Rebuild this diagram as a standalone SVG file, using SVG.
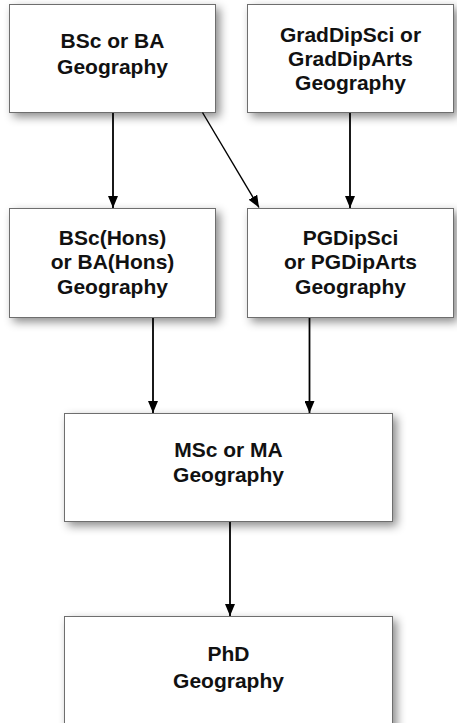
<svg xmlns="http://www.w3.org/2000/svg" width="457" height="723" viewBox="0 0 457 723">
  <style>
    .box { fill: #ffffff; stroke: #6e6e6e; stroke-width: 1; filter: url(#shadow); }
    .label { font-family: "Liberation Sans", Arial, sans-serif; font-weight: bold; font-size: 21px; fill: #111111; text-anchor: middle; }
    .edge { stroke: #000000; stroke-width: 1.8; fill: none; marker-end: url(#arrow); }
    .edge.thin { stroke-width: 1.4; }
  </style>
  <defs>
    <filter id="shadow" x="-20%" y="-20%" width="150%" height="150%">
      <feDropShadow dx="4" dy="4" stdDeviation="5" flood-color="#000000" flood-opacity="0.45"/>
    </filter>
    <marker id="arrow" viewBox="0 0 12 10" refX="12" refY="5" markerWidth="12" markerHeight="10" markerUnits="userSpaceOnUse" orient="auto">
      <path d="M0,0 L12,5 L0,10 z" fill="#000000"/>
    </marker>
  </defs>

  <rect width="457" height="723" fill="#ffffff"/>

  <g id="bsc-ba">
    <rect class="box" x="9.5" y="4.5" width="206" height="108"/>
    <text class="label" x="112.5" y="48">BSc or BA</text>
    <text class="label" x="112.5" y="74">Geography</text>
  </g>

  <g id="graddip">
    <rect class="box" x="247.5" y="4.5" width="206" height="108"/>
    <text class="label" x="350.5" y="41.5">GradDipSci or</text>
    <text class="label" x="350.5" y="65.5">GradDipArts</text>
    <text class="label" x="350.5" y="89.5">Geography</text>
  </g>

  <g id="bsc-hons">
    <rect class="box" x="9.5" y="208.5" width="206" height="109"/>
    <text class="label" x="112.5" y="244.5">BSc(Hons)</text>
    <text class="label" x="112.5" y="269">or BA(Hons)</text>
    <text class="label" x="112.5" y="293.5">Geography</text>
  </g>

  <g id="pgdip">
    <rect class="box" x="247.5" y="208.5" width="206" height="109"/>
    <text class="label" x="350.5" y="244.5">PGDipSci</text>
    <text class="label" x="350.5" y="269">or PGDipArts</text>
    <text class="label" x="350.5" y="293.5">Geography</text>
  </g>

  <g id="msc-ma">
    <rect class="box" x="64.5" y="413.5" width="328" height="108"/>
    <text class="label" x="228.5" y="457">MSc or MA</text>
    <text class="label" x="228.5" y="482">Geography</text>
  </g>

  <g id="phd">
    <rect class="box" x="64.5" y="616.5" width="328" height="120"/>
    <text class="label" x="228.5" y="661">PhD</text>
    <text class="label" x="228.5" y="688">Geography</text>
  </g>

  <g id="connectors">
    <line class="edge" x1="113" y1="113" x2="113" y2="208"/>
    <line class="edge thin" x1="202.5" y1="112.5" x2="259" y2="207.5"/>
    <line class="edge" x1="350" y1="113" x2="350" y2="208"/>
    <line class="edge" x1="153" y1="318" x2="153" y2="413"/>
    <line class="edge" x1="309.5" y1="318" x2="309.5" y2="413"/>
    <line class="edge" x1="230" y1="522" x2="230" y2="616"/>
  </g>
</svg>
